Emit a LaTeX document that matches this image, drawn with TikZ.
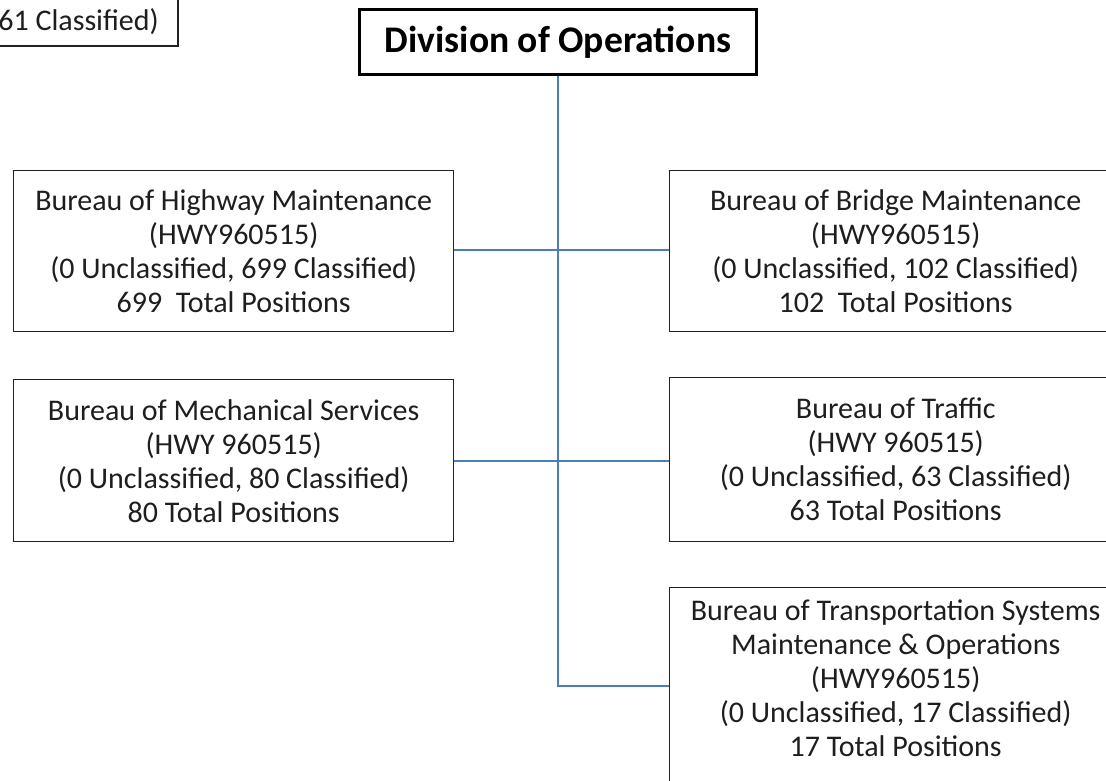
\documentclass[tikz,border=0pt]{standalone}
\usepackage{fontspec}
\setmainfont{Carlito}
\definecolor{linkblue}{HTML}{4A7EBB}
\definecolor{boxline}{HTML}{222222}
\definecolor{txt}{HTML}{1E1E1E}
\tikzset{
  orgbox/.style={draw=boxline, line width=1.4pt, fill=white, inner sep=0pt,
    text=txt, align=center, font=\fontsize{30}{34}\selectfont},
  orgtext/.style={inner sep=0pt, text=txt, align=center, font=\fontsize{30}{34}\selectfont},
  headbox/.style={draw=black, line width=3pt, fill=white, inner sep=0pt,
    align=center, font=\fontsize{37.6}{44}\selectfont\bfseries},
  link/.style={draw=linkblue, line width=1.4pt}
}
\begin{document}
\begin{tikzpicture}[x=1pt,y=1pt]
\useasboundingbox (0,0) rectangle (1106,-780);
\clip (0,0) rectangle (1106,-780);
\fill[white] (0,0) rectangle (1106,-780);

% partly visible neighbouring box at the top left
\draw[boxline, line width=1.4pt] (-20,20) rectangle (178,-46);
\node[orgtext, anchor=base east] (prev) at (159,-30) {61 Classified)};

% division header
\node[headbox, minimum width=397, minimum height=65, anchor=north west] (div) at (358,-8) {Division of Operations};

% bureau boxes
\node[orgbox, minimum width=440, minimum height=161, anchor=north west] (hwy) at (13,-170)
  {Bureau of Highway Maintenance\\(HWY960515)\\(0 Unclassified, 699 Classified)\\699~~Total Positions};
\node[orgbox, minimum width=452, minimum height=161, anchor=north west] (bri) at (669,-170)
  {Bureau of Bridge Maintenance\\(HWY960515)\\(0 Unclassified, 102 Classified)\\102~~Total Positions};
\node[orgbox, minimum width=440, minimum height=162, anchor=north west] (mech) at (13,-379)
  {Bureau of Mechanical Services\\(HWY 960515)\\(0 Unclassified, 80 Classified)\\80 Total Positions};
\node[orgbox, minimum width=452, minimum height=164, anchor=north west] (traf) at (669,-377)
  {Bureau of Traffic\\(HWY 960515)\\(0 Unclassified, 63 Classified)\\63 Total Positions};
\node[orgbox, minimum width=452, minimum height=215, anchor=north west] (tsm) at (669,-587) {};
\node[orgtext, anchor=north] (tsmtext) at ([yshift=-13]tsm.north)
  {Bureau of Transportation Systems\\Maintenance \& Operations\\(HWY960515)\\(0 Unclassified, 17 Classified)\\17 Total Positions};

% connectors
\coordinate (jh) at (558,-250);
\coordinate (jm) at (558,-461);
\coordinate (jt) at (558,-686);
\draw[link] (div.south -| jh) -- (jt) -- (jt -| tsm.west);
\draw[link] (hwy.east |- jh) -- (bri.west |- jh);
\draw[link] (mech.east |- jm) -- (traf.west |- jm);
\end{tikzpicture}
\end{document}
